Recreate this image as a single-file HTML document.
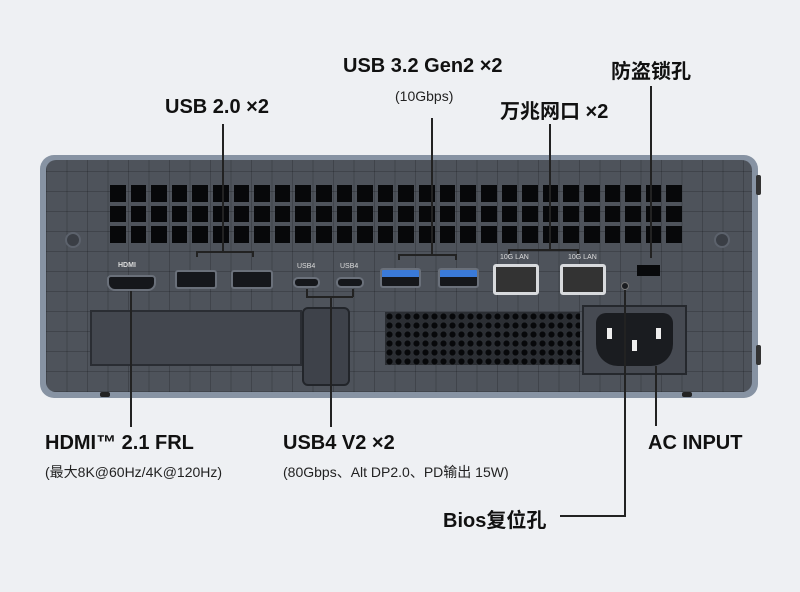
<!DOCTYPE html>
<html><head><meta charset="utf-8"><style>
*{margin:0;padding:0;box-sizing:border-box}
body{width:800px;height:592px;background:#eef0f3;position:relative;overflow:hidden;font-family:"Liberation Sans","Noto Sans CJK SC",sans-serif;color:#111}
.a{position:absolute}
.t{position:absolute;font-weight:bold;font-size:20px;white-space:nowrap}
.s{position:absolute;font-size:14px;white-space:nowrap;color:#222}
.l{position:absolute;background:#222}
.vent{position:absolute;left:110px;top:185px;width:572px;height:58px;display:grid;grid-template-columns:repeat(28,1fr);grid-template-rows:repeat(3,1fr);gap:4px 5px}
.vent i{background:#07080a;display:block}
.port{position:absolute;background:#15171b;border:2px solid #6a707a;border-radius:3px}
</style></head><body>
<div class="a" style="left:40px;top:155px;width:718px;height:243px;background:#8793a3;border-radius:14px"></div>
<div class="a" style="left:100px;top:392px;width:10px;height:5px;background:#222;border-radius:2px"></div>
<div class="a" style="left:682px;top:392px;width:10px;height:5px;background:#222;border-radius:2px"></div>
<div class="a" style="left:46px;top:160px;width:706px;height:232px;background:#4e535b;border-radius:10px;
background-image:repeating-linear-gradient(90deg,rgba(0,0,0,.18) 0 1px,transparent 1px 20.5px),repeating-linear-gradient(0deg,rgba(0,0,0,.18) 0 1px,transparent 1px 20px)"></div>
<div class="a" style="left:756px;top:175px;width:5px;height:20px;background:#333;border-radius:2px"></div>
<div class="a" style="left:756px;top:345px;width:5px;height:20px;background:#333;border-radius:2px"></div>
<div class="vent">
<i></i><i></i><i></i><i></i><i></i><i></i><i></i><i></i><i></i><i></i><i></i><i></i><i></i><i></i><i></i><i></i><i></i><i></i><i></i><i></i><i></i><i></i><i></i><i></i><i></i><i></i><i></i><i></i>
<i></i><i></i><i></i><i></i><i></i><i></i><i></i><i></i><i></i><i></i><i></i><i></i><i></i><i></i><i></i><i></i><i></i><i></i><i></i><i></i><i></i><i></i><i></i><i></i><i></i><i></i><i></i><i></i>
<i></i><i></i><i></i><i></i><i></i><i></i><i></i><i></i><i></i><i></i><i></i><i></i><i></i><i></i><i></i><i></i><i></i><i></i><i></i><i></i><i></i><i></i><i></i><i></i><i></i><i></i><i></i><i></i>
</div>
<div class="a" style="left:65px;top:232px;width:16px;height:16px;border-radius:50%;background:#3a3e45;border:2px solid #5c626c"></div>
<div class="a" style="left:714px;top:232px;width:16px;height:16px;border-radius:50%;background:#3a3e45;border:2px solid #5c626c"></div>
<div class="a" style="left:118px;top:262px;font-size:7px;color:#ddd;font-weight:bold">HDMI</div>
<div class="port" style="left:107px;top:275px;width:49px;height:16px;border-radius:4px 4px 8px 8px"></div>
<div class="port" style="left:175px;top:270px;width:42px;height:19px"></div>
<div class="port" style="left:231px;top:270px;width:42px;height:19px"></div>
<div class="a" style="left:297px;top:263px;font-size:7px;color:#ddd">USB4</div>
<div class="a" style="left:340px;top:263px;font-size:7px;color:#ddd">USB4</div>
<div class="port" style="left:293px;top:277px;width:27px;height:11px;border-radius:5px"></div>
<div class="port" style="left:336px;top:277px;width:28px;height:11px;border-radius:5px"></div>
<div class="port" style="left:380px;top:268px;width:41px;height:20px;background:linear-gradient(#3a7ad8 0 45%,#15171b 45%)"></div>
<div class="port" style="left:438px;top:268px;width:41px;height:20px;background:linear-gradient(#3a7ad8 0 45%,#15171b 45%)"></div>
<div class="a" style="left:500px;top:254px;font-size:7px;color:#ddd">10G LAN</div>
<div class="a" style="left:568px;top:254px;font-size:7px;color:#ddd">10G LAN</div>
<div class="port" style="left:493px;top:264px;width:46px;height:31px;background:#333;border:3px solid #d8dadd"></div>
<div class="port" style="left:560px;top:264px;width:46px;height:31px;background:#333;border:3px solid #d8dadd"></div>
<div class="a" style="left:637px;top:265px;width:23px;height:11px;background:#08090b"></div>
<div class="a" style="left:621px;top:282px;width:8px;height:8px;border-radius:50%;background:#1b1d21;border:1px solid #777"></div>
<div class="a" style="left:90px;top:310px;width:212px;height:56px;background:#43474f;border:2px solid #2a2d33"></div>
<div class="a" style="left:302px;top:307px;width:48px;height:79px;background:#3e424a;border:2px solid #22252a;border-radius:6px"></div>
<div class="a" style="left:385px;top:312px;width:195px;height:53px;background-color:#2b2e33;background-image:radial-gradient(#07080a 45%,transparent 50%);background-size:9px 9px"></div>
<div class="a" style="left:582px;top:305px;width:105px;height:70px;background:#464a52;border:2px solid #25282d"></div>
<div class="a" style="left:596px;top:313px;width:77px;height:53px;background:#1a1c20;border-radius:10px 10px 22px 22px"></div>
<div class="a" style="left:607px;top:328px;width:5px;height:11px;background:#eee"></div>
<div class="a" style="left:656px;top:328px;width:5px;height:11px;background:#eee"></div>
<div class="a" style="left:632px;top:340px;width:5px;height:11px;background:#eee"></div>
<div class="l" style="left:222px;top:124px;width:2px;height:128px"></div>
<div class="l" style="left:196px;top:251px;width:57px;height:1.5px"></div>
<div class="l" style="left:196px;top:251px;width:1.5px;height:6px"></div>
<div class="l" style="left:252px;top:251px;width:1.5px;height:6px"></div>
<div class="l" style="left:431px;top:118px;width:2px;height:137px"></div>
<div class="l" style="left:398px;top:254px;width:58px;height:1.5px"></div>
<div class="l" style="left:398px;top:254px;width:1.5px;height:6px"></div>
<div class="l" style="left:455px;top:254px;width:1.5px;height:6px"></div>
<div class="l" style="left:549px;top:124px;width:2px;height:126px"></div>
<div class="l" style="left:508px;top:249px;width:70px;height:1.5px"></div>
<div class="l" style="left:508px;top:249px;width:1.5px;height:5px"></div>
<div class="l" style="left:577px;top:249px;width:1.5px;height:5px"></div>
<div class="l" style="left:650px;top:86px;width:2px;height:172px"></div>
<div class="l" style="left:130px;top:291px;width:2px;height:136px"></div>
<div class="l" style="left:330px;top:296px;width:2px;height:131px"></div>
<div class="l" style="left:306px;top:296px;width:47px;height:1.5px"></div>
<div class="l" style="left:306px;top:289px;width:1.5px;height:8px"></div>
<div class="l" style="left:352px;top:289px;width:1.5px;height:8px"></div>
<div class="l" style="left:624px;top:290px;width:2px;height:226px"></div>
<div class="l" style="left:560px;top:515px;width:66px;height:2px"></div>
<div class="l" style="left:655px;top:366px;width:2px;height:60px"></div>
<div class="t" style="left:165px;top:96px">USB 2.0 ×2</div>
<div class="t" style="left:343px;top:55px">USB 3.2 Gen2 ×2</div>
<div class="s" style="left:395px;top:88px">(10Gbps)</div>
<div class="t" style="left:500px;top:95px">万兆网口 ×2</div>
<div class="t" style="left:611px;top:55px">防盗锁孔</div>
<div class="t" style="left:45px;top:432px">HDMI™ 2.1 FRL</div>
<div class="s" style="left:45px;top:462px">(最大8K@60Hz/4K@120Hz)</div>
<div class="t" style="left:283px;top:432px">USB4 V2 ×2</div>
<div class="s" style="left:283px;top:462px">(80Gbps、Alt DP2.0、PD输出 15W)</div>
<div class="t" style="left:648px;top:432px">AC INPUT</div>
<div class="t" style="left:443px;top:504px">Bios复位孔</div>
</body></html>
